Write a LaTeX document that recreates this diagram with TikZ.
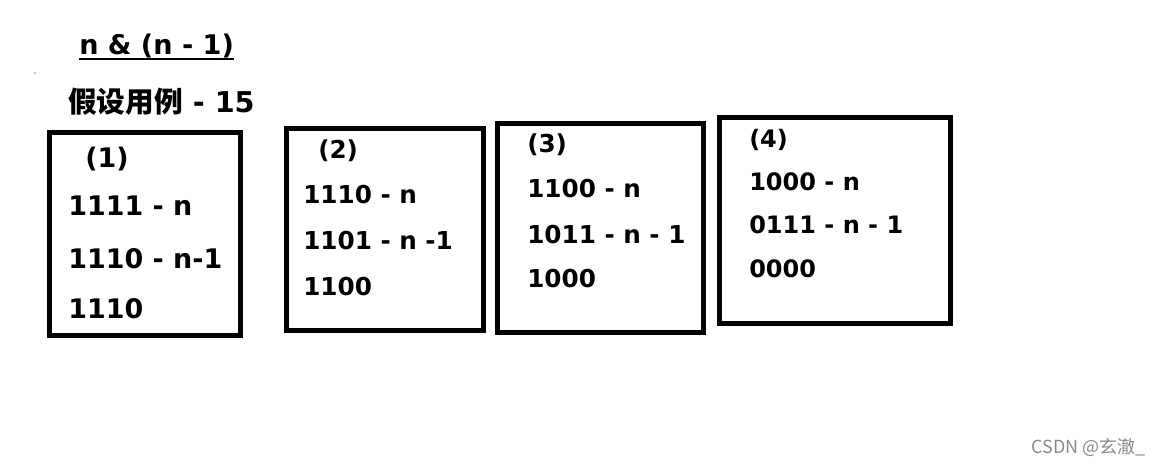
\documentclass[tikz,border=0pt]{standalone}
\usepackage{fontspec}
\usepackage{tikz}
\setmainfont{DejaVu Sans}
\newfontfamily\cjk{Noto Sans CJK SC}
\definecolor{markGray}{HTML}{8A8A8A}

\begin{document}
\begin{tikzpicture}[x=0.75pt,y=-0.75pt,
    boxline/.style={draw=black,line width=3.75pt},
    line/.style={anchor=base west,inner sep=0pt,font=\bfseries\fontsize{#1}{#1}\selectfont},
    line/.default=18.5pt]
  \useasboundingbox[fill=white] (0,0) rectangle (1166,465);

  % heading
  \node[line=20.3pt] (title) at (79,54) {n \& (n - 1)};
  \draw[line width=1.5pt] ([yshift=-4pt]title.base west) -- ([yshift=-4pt]title.base east);
  \fill (35,73) circle (0.6);
  \node[line=21.5pt] (case) at (68,112) {{\cjk 假设用例} - 15};

  % the four steps
  \draw[boxline] (49.5,132.5) rectangle (240.5,335.5);
  \node[line=20.2pt] (s1) at (85,167) {(1)};
  \node[line=20.2pt] (s1a) at (68,215) {1111 - n};
  \node[line=20.2pt] (s1b) at (68,268) {1110 - n-1};
  \node[line=20.2pt] (s1c) at (68,318) {1110};

  \draw[boxline] (286.5,128.5) rectangle (483.5,330.5);
  \node[line] (s2) at (318,158) {(2)};
  \node[line] (s2a) at (303,203) {1110 - n};
  \node[line] (s2b) at (303,249) {1101 - n -1};
  \node[line] (s2c) at (303,295) {1100};

  \draw[boxline] (497.5,123.5) rectangle (703.5,332.5);
  \node[line] (s3) at (527,152) {(3)};
  \node[line] (s3a) at (527,197) {1100 - n};
  \node[line] (s3b) at (527,243) {1011 - n - 1};
  \node[line] (s3c) at (527,287) {1000};

  \draw[boxline] (719.5,117.5) rectangle (950.5,323.5);
  \node[line=18pt] (s4) at (749,147) {(4)};
  \node[line=18pt] (s4a) at (749,190) {1000 - n};
  \node[line=18pt] (s4b) at (749,233) {0111 - n - 1};
  \node[line=18pt] (s4c) at (749,277) {0000};

  \node[anchor=base west,inner sep=0pt,text=markGray,font=\cjk\fontsize{13.5pt}{13.5pt}\selectfont] (mark) at (1031,453) {CSDN @玄澈\_};
\end{tikzpicture}
\end{document}
